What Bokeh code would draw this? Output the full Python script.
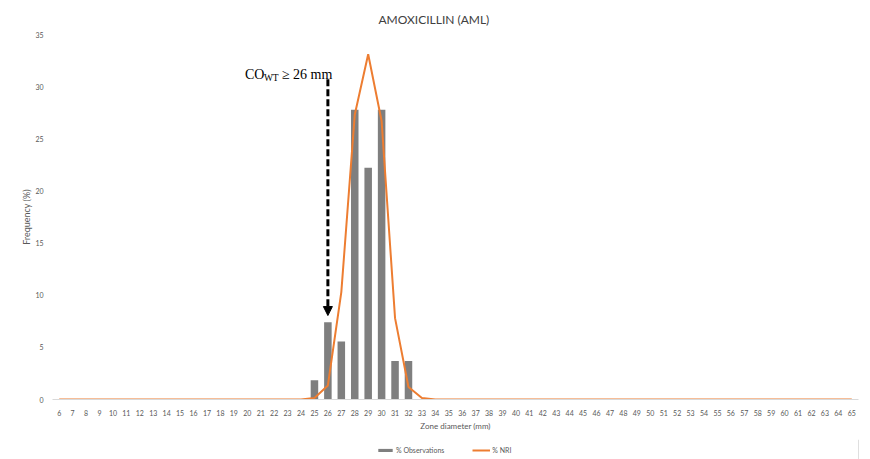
from bokeh.plotting import figure
from bokeh.models import (Range1d, FixedTicker, Label, Arrow, NormalHead,
                          Legend, LegendItem, Title)
from bokeh.layouts import column
from bokeh.embed import file_html
from bokeh.resources import INLINE

# ---------------- data ----------------
zone_ticks = [6, 7, 8, 9, 10, 11, 12, 13, 14, 15, 16, 17, 18, 19, 20, 21, 22, 23, 24, 25,
              26, 27, 28, 29, 30, 31, 32, 33, 34, 35, 36, 37, 38, 39, 40, 41, 42, 43, 44, 45,
              46, 47, 48, 49, 50, 51, 52, 53, 54, 55, 56, 57, 58, 59, 60, 61, 62, 63, 64, 65]

obs_zone = [25, 26, 27, 28, 29, 30, 31, 32]
obs_pct = [1.85, 7.41, 5.56, 27.78, 22.22, 27.78, 3.70, 3.70]

nri_zone = zone_ticks
nri_pct = [0, 0, 0, 0, 0, 0, 0, 0, 0, 0, 0, 0, 0, 0, 0, 0, 0, 0, 0, 0.15,
           1.35, 10.3, 27.3, 33.1, 26.7, 7.8, 1.2, 0.15, 0, 0, 0, 0, 0, 0, 0, 0, 0, 0, 0, 0,
           0, 0, 0, 0, 0, 0, 0, 0, 0, 0, 0, 0, 0, 0, 0, 0, 0, 0, 0, 0]

y_ticks = [0, 5, 10, 15, 20, 25, 30, 35]

title_text = "AMOXICILLIN (AML)"
series_names = ["% Observations", "% NRI"]
cutoff_zone = 26

# ---------------- styles ----------------
FONT = "Lato"
SERIF = "Liberation Serif"
GREY_TXT = "#595959"
BAR_COL = "#7f7f7f"
LINE_COL = "#ED7D31"

# ---------------- main chart ----------------
p = figure(frame_width=806, frame_height=365, output_backend="svg", toolbar_location=None,
           x_range=Range1d(5.5, 65.5), y_range=Range1d(0, 35),
           min_border_left=52, min_border_right=12, min_border_top=34, min_border_bottom=40)
p.outline_line_color = None
p.background_fill_color = "white"
p.border_fill_color = "white"
p.grid.grid_line_color = None

p.title = Title(text=title_text, align="left", offset=326, standoff=16,
                text_font=FONT, text_font_size="12px", text_font_style="normal",
                text_color="#404040")

p.vbar(x=obs_zone, top=obs_pct, width=0.56, fill_color=BAR_COL, line_color=None)
p.line(x=nri_zone, y=nri_pct, line_color=LINE_COL, line_width=2)

# x axis
xa = p.xaxis[0]
xa.ticker = FixedTicker(ticks=zone_ticks)
xa.axis_line_color = "#d9d9d9"
xa.axis_line_width = 1
xa.major_tick_line_color = None
xa.minor_tick_line_color = None
xa.major_label_text_font = FONT
xa.major_label_text_font_size = "7px"
xa.major_label_text_color = GREY_TXT
xa.major_label_standoff = 4
xa.axis_label = "Zone diameter (mm)"
xa.axis_label_text_font = FONT
xa.axis_label_text_font_size = "8px"
xa.axis_label_text_font_style = "normal"
xa.axis_label_text_color = GREY_TXT
xa.axis_label_standoff = 2

# y axis
ya = p.yaxis[0]
ya.ticker = FixedTicker(ticks=y_ticks)
ya.axis_line_color = None
ya.major_tick_line_color = None
ya.minor_tick_line_color = None
ya.major_label_text_font = FONT
ya.major_label_text_font_size = "7px"
ya.major_label_text_color = GREY_TXT
ya.major_label_standoff = 3
ya.axis_label = "Frequency (%)"
ya.axis_label_text_font = FONT
ya.axis_label_text_font_size = "9px"
ya.axis_label_text_font_style = "normal"
ya.axis_label_text_color = GREY_TXT
ya.axis_label_standoff = 0

# cut-off annotation
ann_y = 31.16
p.add_layout(Label(x=cutoff_zone, y=ann_y, x_offset=-83, text="CO",
                   text_font=SERIF, text_font_size="14px",
                   text_baseline="alphabetic", text_color="black"))
p.add_layout(Label(x=cutoff_zone, y=ann_y, x_offset=-64, y_offset=-3, text="WT",
                   text_font=SERIF, text_font_size="9.5px",
                   text_baseline="alphabetic", text_color="black"))
p.add_layout(Label(x=cutoff_zone, y=ann_y, x_offset=-46, text="\u2265 26 mm",
                   text_font=SERIF, text_font_size="14px",
                   text_baseline="alphabetic", text_color="black"))
p.add_layout(Arrow(x_start=cutoff_zone, y_start=30.7, x_end=cutoff_zone, y_end=8.05,
                   line_color="black", line_width=3, line_dash="7 3",
                   end=NormalHead(size=9, fill_color="black", line_color="black", line_width=1)))

# ---------------- legend strip ----------------
pl = figure(width=870, height=20, output_backend="svg", toolbar_location=None,
            x_range=Range1d(0, 1), y_range=Range1d(0, 1),
            x_axis_type=None, y_axis_type=None, min_border=0)
pl.outline_line_color = None
pl.grid.grid_line_color = None
# legend swatches reuse the series' first points, which fall outside this strip's range
leg_bar = pl.vbar(x=obs_zone[:1], top=obs_pct[:1], width=0.56,
                  fill_color=BAR_COL, line_color=None)
leg_line = pl.line(x=nri_zone[:2], y=nri_pct[:2], line_color=LINE_COL, line_width=2)

legend = Legend(items=[LegendItem(label=series_names[0], renderers=[leg_bar]),
                       LegendItem(label=series_names[1], renderers=[leg_line])],
                orientation="horizontal", location=(324, 5),
                label_text_font=FONT, label_text_font_size="7px", label_text_color=GREY_TXT,
                glyph_width=18, glyph_height=4, label_height=8, label_standoff=2,
                spacing=28, padding=2, margin=0, border_line_color=None,
                background_fill_alpha=0)
pl.add_layout(legend)

layout = column(p, pl, spacing=0)
open("out.html", "w").write(file_html(layout, INLINE))
